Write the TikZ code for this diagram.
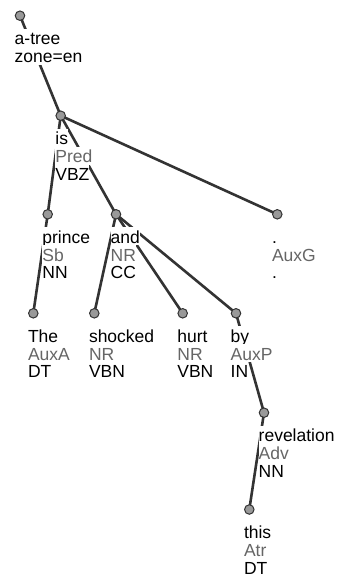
\documentclass[tikz,border=0pt]{standalone}
\usepackage{fontspec}
\setmainfont{Liberation Sans}
\definecolor{edgec}{HTML}{333333}
\definecolor{dotfill}{HTML}{999999}
\definecolor{greyt}{HTML}{666666}
\pgfdeclarelayer{bg}
\pgfsetlayers{bg,main}
\tikzset{
  tnode/.style={circle,draw=edgec,fill=dotfill,line width=1pt,minimum size=9.5pt,inner sep=0pt},
  lab/.style={fill=white,inner sep=0pt,text height=16pt,text depth=2pt,anchor=base west,font=\fontsize{17.5}{18}\selectfont},
  labg/.style={lab,text=greyt},
  labl/.style={lab,text depth=0.5pt},
  edge/.style={draw=edgec,line width=2.6pt}
}
\begin{document}
\begin{tikzpicture}[x=1pt,y=-1pt]
\useasboundingbox (0,0) rectangle (337,578);
% tree nodes
\node[tnode] (root) at (20,15.7) {};
\node[tnode] (is) at (60.7,115.7) {};
\node[tnode] (prince) at (47.7,214.3) {};
\node[tnode] (and) at (116,214.3) {};
\node[tnode] (auxg) at (277.3,214.3) {};
\node[tnode] (the) at (33.3,313.3) {};
\node[tnode] (shocked) at (94.3,313.3) {};
\node[tnode] (hurt) at (182.7,313.3) {};
\node[tnode] (by) at (236,313.3) {};
\node[tnode] (revel) at (264,412.7) {};
\node[tnode] (this) at (249.3,509.5) {};
% edges
\begin{pgfonlayer}{bg}
\draw[edge] (root.center) -- (is.center);
\draw[edge] (is.center) -- (prince.center);
\draw[edge] (is.center) -- (and.center);
\draw[edge] (is.center) -- (auxg.center);
\draw[edge] (prince.center) -- (the.center);
\draw[edge] (and.center) -- (shocked.center);
\draw[edge] (and.center) -- (hurt.center);
\draw[edge] (and.center) -- (by.center);
\draw[edge] (by.center) -- (revel.center);
\draw[edge] (revel.center) -- (this.center);
\end{pgfonlayer}
% labels
\node[lab] (rootA) at ([shift={(-5.5,29)}]root.center) {a-tree};
\node[lab] (rootB) at ([yshift=-18pt]rootA.base west) {zone=en};
\foreach \n/\a/\b/\c in {is/is/Pred/VBZ, prince/prince/Sb/NN, and/and/NR/CC, auxg/./AuxG/., the/The/AuxA/DT, shocked/shocked/NR/VBN, hurt/hurt/NR/VBN, by/by/AuxP/IN, revel/revelation/Adv/NN, this/this/Atr/DT}{
  \node[lab] (\n A) at ([shift={(-5.5,29)}]\n.center) {\a};
  \node[labg] (\n B) at ([yshift=-18pt]\n A.base west) {\b};
  \node[labl] (\n C) at ([yshift=-17.5pt]\n B.base west) {\c};
}
\end{tikzpicture}
\end{document}
